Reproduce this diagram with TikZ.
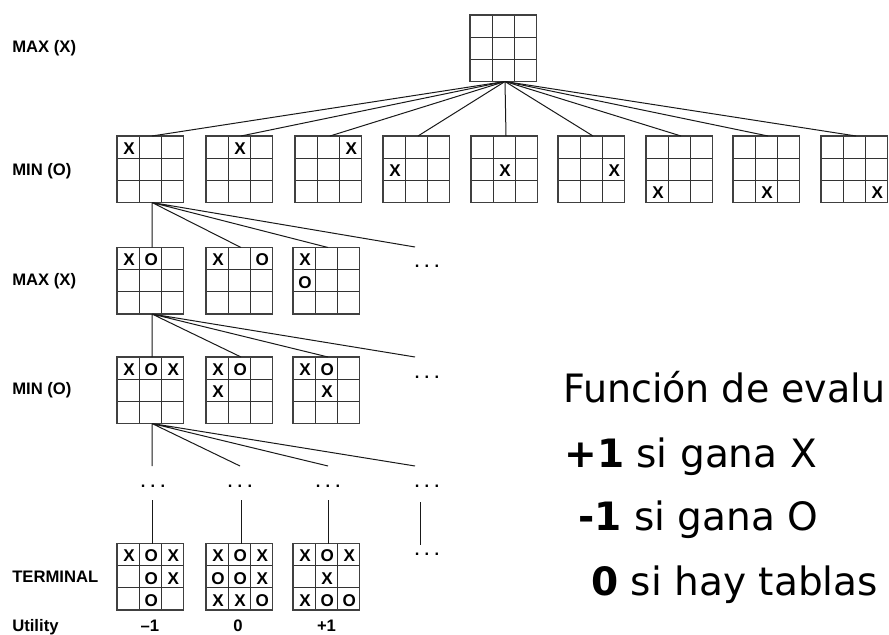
\documentclass[tikz,border=0pt]{standalone}
\usepackage{fontspec}
\setmainfont{Liberation Sans}
\newfontfamily\evalfont{DejaVu Sans}
\newcommand\ddd{.\hspace{4pt}.\hspace{4pt}.}
\newcommand\tttboard[4]{%
  \begin{scope}[shift={(#2,#3)}]
    \draw[gridline] (22.17,0) -- (22.17,66.5) (44.33,0) -- (44.33,66.5)
                    (0,22.17) -- (66.5,22.17) (0,44.33) -- (66.5,44.33);
    \node[board] (#1) at (33.25,33.25) {};
    \coordinate (#1-t) at (35,0);
    \coordinate (#1-b) at (35,66.5);
    \foreach \r/\c/\m in {#4} {\node[mk] at ({12+22.17*\c},{12.5+22.17*\r}) {\m};}
  \end{scope}}
\begin{document}
\begin{tikzpicture}[x=0.75pt,y=-0.75pt,
  gridline/.style={line width=0.7pt,black!80},
  board/.style={draw=black!75,line width=1.1pt,minimum size=49.875pt,inner sep=0pt,outer sep=0pt},
  mk/.style={font=\bfseries\fontsize{12.8}{14}\selectfont,inner sep=0pt},
  conn/.style={line width=0.75pt,black!90},
  lvl/.style={font=\bfseries\fontsize{12.5}{14}\selectfont,anchor=base west,inner sep=0pt},
  util/.style={font=\bfseries\fontsize{12.5}{14}\selectfont,anchor=base,inner sep=0pt},
  dotsn/.style={font=\bfseries\fontsize{12.3}{14}\selectfont,anchor=base,inner sep=0pt},
  evaltext/.style={font=\evalfont\fontsize{29.3}{35}\selectfont,anchor=base west,inner sep=0pt}]
\useasboundingbox (0,0) rectangle (889,635);

% level labels
\node[lvl] (lab1) at (12,53) {MAX (X)};
\node[lvl] (lab2) at (12,175.5) {MIN (O)};
\node[lvl] (lab3) at (12,285) {MAX (X)};
\node[lvl] (lab4) at (12,394) {MIN (O)};
\node[lvl] (lab5) at (12,582) {TERMINAL};
\node[lvl] (lab6) at (12,631) {Utility};

% boards
\tttboard{root}{470}{15}{0/0/{}}
\tttboard{m1}{117}{136}{0/0/X}
\tttboard{m2}{206}{136}{0/1/X}
\tttboard{m3}{295}{136}{0/2/X}
\tttboard{m4}{383}{136}{1/0/X}
\tttboard{m5}{471}{136}{1/1/X}
\tttboard{m6}{558}{136}{1/2/X}
\tttboard{m7}{646}{136}{2/0/X}
\tttboard{m8}{733}{136}{2/1/X}
\tttboard{m9}{821}{136}{2/2/X}

\tttboard{a1}{117}{247.5}{0/0/X,0/1/O}
\tttboard{a2}{206}{247.5}{0/0/X,0/2/O}
\tttboard{a3}{293}{247.5}{0/0/X,1/0/O}

\tttboard{n1}{117}{357}{0/0/X,0/1/O,0/2/X}
\tttboard{n2}{206}{357}{0/0/X,0/1/O,1/0/X}
\tttboard{n3}{293}{357}{0/0/X,0/1/O,1/1/X}

\tttboard{t1}{117}{543.5}{0/0/X,0/1/O,0/2/X,1/1/O,1/2/X,2/1/O}
\tttboard{t2}{206}{543.5}{0/0/X,0/1/O,0/2/X,1/0/O,1/1/O,1/2/X,2/0/X,2/1/X,2/2/O}
\tttboard{t3}{293}{543.5}{0/0/X,0/1/O,0/2/X,1/1/X,2/0/X,2/1/O,2/2/O}

% dots
\node[dotsn] (dA) at (427,267.5) {\ddd};
\node[dotsn] (dB) at (427,378.5) {\ddd};
\node[dotsn] (dC1) at (153,487.5) {\ddd};
\node[dotsn] (dC2) at (240,487.5) {\ddd};
\node[dotsn] (dC3) at (328,487.5) {\ddd};
\node[dotsn] (dC4) at (427,487.5) {\ddd};
\node[dotsn] (dD) at (427,555.5) {\ddd};

% free ends
\coordinate (e1) at (415,247);
\coordinate (e2) at (415,357);
\coordinate (f1) at (152,466);
\coordinate (f2) at (240,466);
\coordinate (f3) at (328,466);
\coordinate (f4) at (415,466);
\coordinate (g1) at (152,500);
\coordinate (g2) at (241,500);
\coordinate (g3) at (328,500);
\coordinate (g4) at (420,502);
\coordinate (h4) at (420,545);

% connectors
\foreach \i in {1,...,9} {\draw[conn] (root-b) -- (m\i-t);}
\draw[conn] (m1-b) -- (a1-t) (m1-b) -- (a2-t) (m1-b) -- (a3-t) (m1-b) -- (e1);
\draw[conn] (a1-b) -- (n1-t) (a1-b) -- (n2-t) (a1-b) -- (n3-t) (a1-b) -- (e2);
\draw[conn] (n1-b) -- (f1) (n1-b) -- (f2) (n1-b) -- (f3) (n1-b) -- (f4);
\draw[conn] (g1) -- (t1-t) (g2) -- (t2-t) (g3) -- (t3-t) (g4) -- (h4);

% utilities
\node[util] (u1) at (150,631) {--1};
\node[util] (u2) at (238,631) {0};
\node[util] (u3) at (326.5,631) {+1};

% evaluation function text
\begin{scope}[shift={(563,402)}]
  \node[evaltext,xscale=0.972,transform shape] (ev1) at (0,0) {Función de evalu};
\end{scope}
\node[evaltext] (ev2) at (564,467) {\textbf{+1} si gana X};
\node[evaltext] (ev3) at (578,530) {\textbf{-1} si gana O};
\node[evaltext] (ev4) at (591,595) {\textbf{0} si hay tablas};
\end{tikzpicture}
\end{document}
